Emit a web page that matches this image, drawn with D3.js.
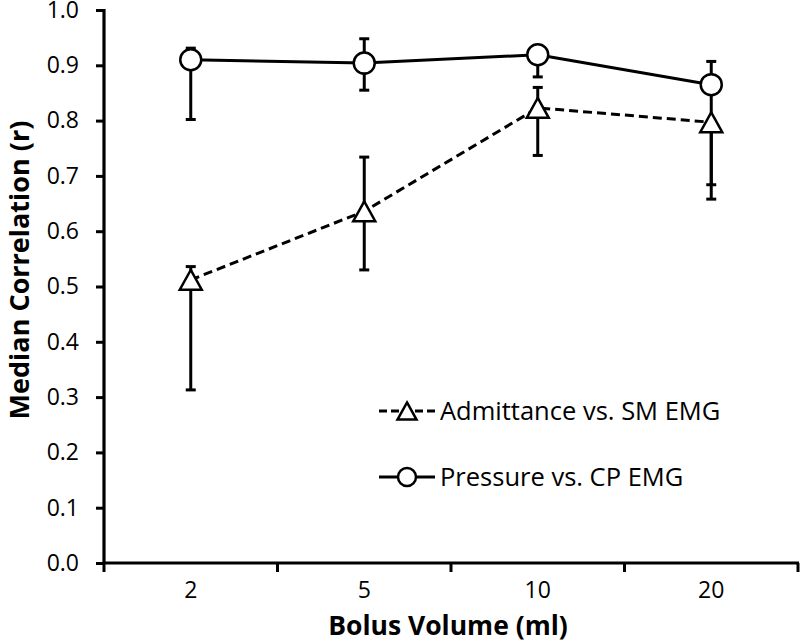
<!DOCTYPE html>
<html>
<head>
<meta charset="utf-8">
<script src="https://cdn.jsdelivr.net/npm/d3@7/dist/d3.min.js"></script>
<style>
  html, body { margin: 0; padding: 0; background: #fff; }
  svg { display: block; }
  text { font-family: "Open Sans", "Noto Sans", sans-serif; fill: #000; }
</style>
</head>
<body>
<svg id="chart" width="800" height="642"></svg>
<script>
// ---- data ----
const categories = ["2", "5", "10", "20"];
const yTicks = [0, 0.1, 0.2, 0.3, 0.4, 0.5, 0.6, 0.7, 0.8, 0.9, 1.0];

const pressureName = "Pressure vs. CP EMG";
const pressureValues = [0.910, 0.904, 0.919, 0.865];
const pressureUpper  = [0.931, 0.948, 0.930, 0.907];
const pressureLower  = [0.802, 0.855, 0.879, 0.684];

const admitName = "Admittance vs. SM EMG";
const admitValues = [0.512, 0.636, 0.823, 0.797];
const admitUpper  = [0.536, 0.734, 0.860, 0.797];
const admitLower  = [0.313, 0.530, 0.737, 0.658];

const xTitle = "Bolus Volume (ml)";
const yTitle = "Median Correlation (r)";

// ---- layout ----
const svg = d3.select("#chart");
const plotLeft = 104, plotRight = 798, plotTop = 10, plotBottom = 563;

const x = d3.scaleBand().domain(categories).range([plotLeft, plotRight]).paddingInner(0).paddingOuter(0);
const y = d3.scaleLinear().domain([0, 1]).range([plotBottom, plotTop]);
const cx = c => x(c) + x.bandwidth() / 2;

const series = [
  { name: admitName, values: admitValues, upper: admitUpper, lower: admitLower, marker: "tri", dash: "9,5" },
  { name: pressureName, values: pressureValues, upper: pressureUpper, lower: pressureLower, marker: "circle", dash: null }
];

// ---- y axis ----
const yAxis = d3.axisLeft(y).tickValues(yTicks).tickSize(8).tickPadding(17).tickFormat(d3.format(".1f"));
const gy = svg.append("g").attr("transform", `translate(${plotLeft},0)`).call(yAxis);
gy.select(".domain").remove();
gy.selectAll(".tick line").attr("stroke", "#000").attr("stroke-width", 3);
gy.selectAll(".tick text").attr("font-size", 23).attr("font-family", "'Open Sans', sans-serif").attr("fill", "#000");

// ---- x axis ----
const xAxis = d3.axisBottom(x).tickSize(0).tickPadding(19);
const gx = svg.append("g").attr("transform", `translate(0,${plotBottom})`).call(xAxis);
gx.select(".domain").remove();
gx.selectAll(".tick text").attr("font-size", 23).attr("font-family", "'Open Sans', sans-serif").attr("fill", "#000");

// category boundary ticks
const bounds = categories.map(c => x(c)).concat([x(categories[categories.length - 1]) + x.bandwidth()]);
svg.append("g").selectAll("line").data(bounds).join("line")
  .attr("x1", d => d).attr("x2", d => d)
  .attr("y1", plotBottom).attr("y2", plotBottom + 9)
  .attr("stroke", "#000").attr("stroke-width", 3);

// axis lines
svg.append("line").attr("x1", plotLeft).attr("x2", plotLeft).attr("y1", y(1) - 1).attr("y2", plotBottom + 1)
  .attr("stroke", "#000").attr("stroke-width", 3.2);
svg.append("line").attr("x1", plotLeft - 1).attr("x2", plotRight + 1).attr("y1", plotBottom).attr("y2", plotBottom)
  .attr("stroke", "#000").attr("stroke-width", 3.2);

// ---- titles ----
svg.append("text").attr("x", 448).attr("y", 635)
  .attr("text-anchor", "middle").attr("font-size", 26.5).attr("font-weight", "bold").text(xTitle);
svg.append("text").attr("transform", `translate(29,270) rotate(-90)`)
  .attr("text-anchor", "middle").attr("font-size", 27).attr("font-weight", "bold").text(yTitle);

// ---- error bars ----
const capW = 5;
series.forEach(s => {
  const g = svg.append("g");
  const d = categories.map((c, i) => ({ c, v: s.values[i], hi: s.upper[i], lo: s.lower[i] }));
  g.selectAll(".eb").data(d).join("line")
    .attr("x1", e => cx(e.c)).attr("x2", e => cx(e.c))
    .attr("y1", e => y(e.hi)).attr("y2", e => y(e.lo))
    .attr("stroke", "#000").attr("stroke-width", 3);
  g.selectAll(".capH").data(d).join("line")
    .attr("x1", e => cx(e.c) - capW).attr("x2", e => cx(e.c) + capW)
    .attr("y1", e => y(e.hi)).attr("y2", e => y(e.hi))
    .attr("stroke", "#000").attr("stroke-width", 3);
  g.selectAll(".capL").data(d).join("line")
    .attr("x1", e => cx(e.c) - capW).attr("x2", e => cx(e.c) + capW)
    .attr("y1", e => y(e.lo)).attr("y2", e => y(e.lo))
    .attr("stroke", "#000").attr("stroke-width", 3);
});

// ---- lines ----
const line = d3.line().x(d => cx(d.c)).y(d => y(d.v));
series.forEach(s => {
  const d = categories.map((c, i) => ({ c, v: s.values[i] }));
  svg.append("path").datum(d).attr("d", line)
    .attr("fill", "none").attr("stroke", "#000").attr("stroke-width", 3)
    .attr("stroke-dasharray", s.dash);
});

// ---- markers ----
const triPath = (w) => {
  const h = w * 0.9;
  return `M0,${-h / 2}L${w / 2},${h / 2}L${-w / 2},${h / 2}Z`;
};
function drawMarker(g, type, px, py, size) {
  if (type === "circle") {
    g.append("circle").attr("cx", px).attr("cy", py).attr("r", size / 2)
      .attr("fill", "#fff").attr("stroke", "#000").attr("stroke-width", 2.5);
  } else {
    g.append("path").attr("d", triPath(size)).attr("transform", `translate(${px},${py})`)
      .attr("fill", "#fff").attr("stroke", "#000").attr("stroke-width", 2.5).attr("stroke-linejoin", "miter");
  }
}
series.forEach(s => {
  const g = svg.append("g");
  categories.forEach((c, i) => drawMarker(g, s.marker, cx(c), y(s.values[i]), s.marker === "circle" ? 21 : 22));
});

// ---- legend ----
const legendY = [411, 477];
series.forEach((s, i) => {
  const g = svg.append("g");
  const ly = legendY[i];
  g.append("line").attr("x1", 379).attr("x2", 435).attr("y1", ly).attr("y2", ly)
    .attr("stroke", "#000").attr("stroke-width", 3).attr("stroke-dasharray", s.dash ? "8,4" : null);
  drawMarker(g, s.marker, 407, ly, s.marker === "circle" ? 18 : 19);
  g.append("text").attr("x", 440).attr("y", ly).attr("dy", "0.35em")
    .attr("font-size", 25.5).text(s.name);
});
</script>
</body>
</html>
